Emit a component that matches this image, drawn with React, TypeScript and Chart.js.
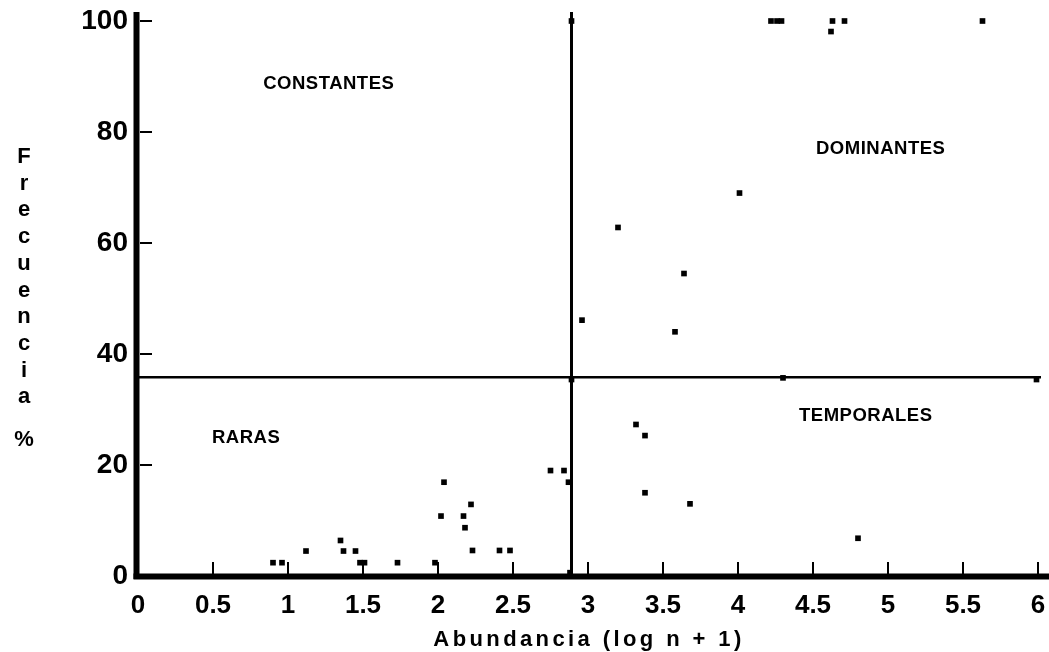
import React, { useEffect, useRef } from "react";
import { Chart, registerables } from "chart.js";

Chart.register(...registerables);

// ---- data ----
const abundance = [
  0.9, 0.96, 1.12, 1.35, 1.37, 1.45, 1.48, 1.51, 1.73, 1.98, 2.02, 2.04, 2.17, 2.18, 2.22, 2.23, 2.41, 2.48, 2.75, 2.84, 2.87, 2.89, 2.88,
  2.89, 2.96, 3.2, 3.58, 3.64, 4.01, 4.22, 4.26, 4.29, 4.63, 4.71, 4.62, 5.63,
  3.32, 3.38, 3.38, 3.68, 4.8, 4.3, 5.99,
];
const frequency = [
  2.4, 2.4, 4.5, 6.4, 4.5, 4.5, 2.4, 2.4, 2.4, 2.4, 10.8, 16.9, 10.8, 8.7, 12.9, 4.6, 4.6, 4.6, 19.0, 19.0, 16.9, 35.4, 0.6,
  100, 46.1, 62.8, 44.0, 54.5, 69.0, 100, 100, 100, 100, 100, 98.1, 100,
  27.3, 25.3, 15.0, 13.0, 6.8, 35.7, 35.4,
];
const xTickValues = [0, 0.5, 1, 1.5, 2, 2.5, 3, 3.5, 4, 4.5, 5, 5.5, 6];
const yTickValues = [0, 20, 40, 60, 80, 100];
const quadrantNames = ["CONSTANTES", "DOMINANTES", "RARAS", "TEMPORALES"];
const quadrantX = [0.835, 4.52, 0.493, 4.407];
const quadrantY = [87.66, 76.0, 23.96, 27.9];
const cutAbundance = 2.89;
const cutFrequency = 35.8;
const xTitle = "Abundancia (log n + 1)";
const yTitleLetters = ["F", "r", "e", "c", "u", "e", "n", "c", "i", "a"];
const yTitleUnit = "%";

const FONT = '"Liberation Sans", Arial, Helvetica, sans-serif';

const zeroPadding = (s: any) => {
  s.paddingTop = 0;
  s.paddingBottom = 0;
  s.paddingLeft = 0;
  s.paddingRight = 0;
};

const overlayPlugin = {
  id: "overlay",
  beforeDatasetsDraw(chart: any) {
    const ctx = chart.ctx as CanvasRenderingContext2D;
    const xs = chart.scales.x;
    const ys = chart.scales.y;
    const x0 = xs.getPixelForValue(0);
    const y0 = ys.getPixelForValue(0);
    const yTop = ys.getPixelForValue(100);
    ctx.save();
    ctx.strokeStyle = "#000";
    ctx.lineCap = "butt";
    // quadrant lines
    ctx.lineWidth = 2.5;
    ctx.beginPath();
    const hy = ys.getPixelForValue(cutFrequency);
    ctx.moveTo(x0, hy);
    ctx.lineTo(xs.getPixelForValue(6) + 3, hy);
    ctx.stroke();
    ctx.lineWidth = 3;
    ctx.beginPath();
    const vx = xs.getPixelForValue(cutAbundance);
    ctx.moveTo(vx, yTop - 9);
    ctx.lineTo(vx, y0);
    ctx.stroke();
    // tick marks
    ctx.lineWidth = 2;
    yTickValues.forEach((v) => {
      if (v === 0) return;
      const py = ys.getPixelForValue(v);
      ctx.beginPath();
      ctx.moveTo(x0 + 2, py);
      ctx.lineTo(x0 + 14, py);
      ctx.stroke();
    });
    xTickValues.forEach((v) => {
      if (v === 0) return;
      const px = xs.getPixelForValue(v);
      ctx.beginPath();
      ctx.moveTo(px, y0 - 2);
      ctx.lineTo(px, y0 - 14);
      ctx.stroke();
    });
    // axes
    ctx.lineWidth = 6;
    ctx.beginPath();
    ctx.moveTo(x0 - 1.5, yTop - 9);
    ctx.lineTo(x0 - 1.5, y0 + 3);
    ctx.stroke();
    ctx.beginPath();
    ctx.moveTo(x0 - 4.5, y0 + 0.5);
    ctx.lineTo(chart.width, y0 + 0.5);
    ctx.stroke();
    ctx.restore();
  },
  afterDatasetsDraw(chart: any) {
    const ctx = chart.ctx as CanvasRenderingContext2D;
    const xs = chart.scales.x;
    const ys = chart.scales.y;
    ctx.save();
    ctx.fillStyle = "#000";
    // quadrant labels
    ctx.font = `bold 18.5px ${FONT}`;
    (ctx as any).letterSpacing = "0.5px";
    ctx.textAlign = "left";
    ctx.textBaseline = "alphabetic";
    quadrantNames.forEach((name, i) => {
      ctx.fillText(name, xs.getPixelForValue(quadrantX[i]), ys.getPixelForValue(quadrantY[i]));
    });
    // x title
    ctx.font = `bold 22px ${FONT}`;
    (ctx as any).letterSpacing = "3.4px";
    ctx.textAlign = "center";
    ctx.fillText(xTitle, (chart.chartArea.left + chart.chartArea.right) / 2 + 1, 646);
    // y title (stacked letters)
    ctx.font = `bold 22px ${FONT}`;
    (ctx as any).letterSpacing = "0px";
    ctx.textBaseline = "middle";
    yTitleLetters.forEach((ch, i) => {
      ctx.fillText(ch, 24, 157 + i * 26.7);
    });
    ctx.fillText(yTitleUnit, 24, 440);
    ctx.restore();
  },
};

export default function App() {
  const canvasRef = useRef<HTMLCanvasElement | null>(null);

  useEffect(() => {
    if (!canvasRef.current) return;
    const points = abundance.map((x, i) => ({ x, y: frequency[i] }));
    const chart = new Chart(canvasRef.current, {
      type: "scatter",
      data: {
        datasets: [
          {
            data: points,
            pointStyle: "rect",
            pointRadius: 4,
            pointHoverRadius: 4,
            backgroundColor: "#000",
            borderColor: "#000",
            borderWidth: 0,
            clip: false,
          } as any,
        ],
      },
      options: {
        animation: false,
        responsive: true,
        maintainAspectRatio: false,
        layout: { padding: { top: 21, right: 11, bottom: 0, left: 0 } },
        plugins: { legend: { display: false }, tooltip: { enabled: false } },
        scales: {
          x: {
            type: "linear",
            min: 0,
            max: 6,
            afterBuildTicks: (s: any) => {
              s.ticks = xTickValues.map((v) => ({ value: v }));
            },
            afterFit: (s: any) => {
              s.height = 76;
              zeroPadding(s);
            },
            ticks: {
              autoSkip: false,
              maxRotation: 0,
              padding: 14,
              color: "#000",
              font: { family: FONT, size: 26, weight: "bold" },
              callback: (v: any) => String(v),
            },
            grid: { display: false, drawTicks: false },
            border: { display: false },
          },
          y: {
            type: "linear",
            min: 0,
            max: 100,
            afterBuildTicks: (s: any) => {
              s.ticks = yTickValues.map((v) => ({ value: v }));
            },
            afterFit: (s: any) => {
              s.width = 138;
              zeroPadding(s);
            },
            ticks: {
              padding: 10,
              color: "#000",
              font: { family: FONT, size: 28, weight: "bold" },
              callback: (v: any) => String(v),
            },
            grid: { display: false, drawTicks: false },
            border: { display: false },
          },
        },
      },
      plugins: [overlayPlugin],
    });
    return () => chart.destroy();
  }, []);

  return (
    <div style={{ position: "fixed", left: 0, top: 0, width: 1049, height: 652, background: "#fff" }}>
      <canvas ref={canvasRef} />
    </div>
  );
}
